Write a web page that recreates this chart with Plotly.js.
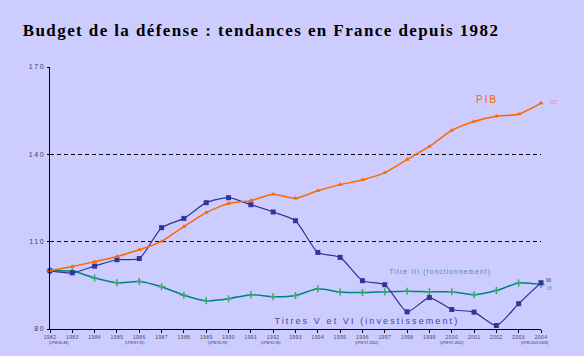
<!DOCTYPE html>
<html>
<head>
<meta charset="utf-8">
<script src="https://cdn.plot.ly/plotly-3.0.1.min.js"></script>
<style>
  html, body { margin:0; padding:0; background:#CCCCFF; }
  #chart { width:584px; height:356px; }
  .gtitle { letter-spacing: 1.4px; }
  .ytick text { letter-spacing: 1.6px; }
  .xtick text { letter-spacing: 0.4px; }
</style>
</head>
<body>
<div id="chart"></div>
<script>
const years = [1982,1983,1984,1985,1986,1987,1988,1989,1990,1991,1992,1993,1994,1995,1996,1997,1998,1999,2000,2001,2002,2003,2004];
const pib = [100,101.5,103.1,104.9,107.2,110.1,115.2,120.0,123.1,124.1,126.3,124.9,127.5,129.6,131.2,133.7,138.2,142.7,148.2,151.3,153.1,153.8,157.6];
const titre3 = [100,99.9,97.5,95.9,96.3,94.5,91.6,89.7,90.4,91.8,91.1,91.5,93.8,92.7,92.5,92.8,93.0,92.8,92.8,91.8,93.2,95.8,95.3];
const titres56 = [100,99.3,101.6,103.8,104.2,114.8,118.0,123.4,125.1,122.7,120.2,117.2,106.3,104.6,96.6,95.2,85.9,90.8,86.7,85.8,81.2,88.7,95.9];
const yTicks = [80,110,140,170];
const seriesNames = ["PIB","Titre III (fonctionnement)","Titres V et VI (investissement)"];
const endLabels = ["157","96","95"];
const lpmYears = [1982.36,1985.8,1989.5,1991.86,1996.16,1999.97,2003.7];
const lpmLabels = ["(LPM 84-88)","(LPM 87-91)","(LPM 90-93)","(LPM 92-94)","(LPM 97-2002)","(LPM 97-2002)","(LPM 2003-2008)"];

const traces = [
  {x:years, y:titre3, mode:'lines+markers', cliponaxis:false, line:{color:'#008080', width:1.5, shape:'spline', smoothing:0.6},
   marker:{symbol:'cross-thin', size:5, line:{color:'#33AA66', width:1.5}, color:'#33AA66'}, name:seriesNames[1]},
  {x:years, y:titres56, mode:'lines+markers', cliponaxis:false, line:{color:'#333399', width:1.2, shape:'spline', smoothing:0.6},
   marker:{symbol:'square', size:5, color:'#333399'}, name:seriesNames[2]},
  {x:years, y:pib, mode:'lines+markers', cliponaxis:false, line:{color:'#FF6600', width:1.5, shape:'spline', smoothing:0.6},
   marker:{symbol:'triangle-up', size:4.5, color:'#FF6600'}, name:seriesNames[0]}
];

const F = 'Arial, Liberation Sans, sans-serif';
const annotations = [
  {x:2001.58, y:158.95, xref:'x', yref:'y', text:seriesNames[0], showarrow:false, xanchor:'center', yanchor:'middle',
   font:{family:F, size:10, color:'#FF6600'}},
  {x:1999.49, y:99.7, xref:'x', yref:'y', text:seriesNames[1], showarrow:false, xanchor:'center', yanchor:'middle',
   font:{family:F, size:6.5, color:'#4A88B0'}},
  {x:1996.22, y:82.7, xref:'x', yref:'y', text:seriesNames[2], showarrow:false, xanchor:'center', yanchor:'middle',
   font:{family:F, size:9, color:'#4444AA'}},
  {x:1.014, y:0.863, xref:'paper', yref:'paper', text:endLabels[0], showarrow:false, xanchor:'left', yanchor:'middle',
   font:{family:F, size:4.5, color:'#FF7799'}},
  {x:1.006, y:0.187, xref:'paper', yref:'paper', text:endLabels[1], showarrow:false, xanchor:'left', yanchor:'middle',
   font:{family:F, size:4.5, color:'#333399'}},
  {x:1.008, y:0.156, xref:'paper', yref:'paper', text:endLabels[2], showarrow:false, xanchor:'left', yanchor:'middle',
   font:{family:F, size:4.5, color:'#33AACC'}}
];
lpmYears.forEach((yr, i) => {
  annotations.push({x:yr, y:-0.055, xref:'x', yref:'paper', text:lpmLabels[i], showarrow:false,
    xanchor:'center', yanchor:'middle', font:{family:F, size:3.5, color:'#333366'}});
});

const layout = {
  width:584, height:356,
  paper_bgcolor:'#CCCCFF', plot_bgcolor:'#CCCCFF',
  margin:{l:50, r:43, t:67, b:27},
  showlegend:false,
  title:{text:'Budget de la défense : tendances en France depuis 1982',
    font:{family:'Liberation Serif, Times New Roman, serif', size:17, color:'#000000', weight:'bold'},
    x:0.447, xanchor:'center', y:0.916, yanchor:'middle'},
  xaxis:{range:[1982,2004], tickvals:years, ticktext:years.map(String),
    showgrid:false, zeroline:false, showline:true, linecolor:'#000000', linewidth:1.3,
    ticks:'outside', ticklen:3, tickcolor:'#000000', tickwidth:1,
    tickfont:{family:F, size:5, color:'#444466'}},
  yaxis:{range:[80,170], tickvals:yTicks, ticktext:yTicks.map(String),
    showgrid:true, gridcolor:'#000000', gridwidth:1.2, griddash:'4px,3px',
    zeroline:false, showline:true, linecolor:'#000000', linewidth:1.3,
    ticks:'outside', ticklen:2, tickcolor:'#000000',
    tickfont:{family:F, size:7, color:'#334466'}},
  annotations:annotations
};

Plotly.newPlot('chart', traces, layout, {staticPlot:true}).then(() => {
  const ann = document.querySelectorAll('.annotation-text');
  const spacing = ['2px','1.2px','2.1px'];
  spacing.forEach((s, i) => { if (ann[i]) ann[i].style.letterSpacing = s; });
});
</script>
</body>
</html>
